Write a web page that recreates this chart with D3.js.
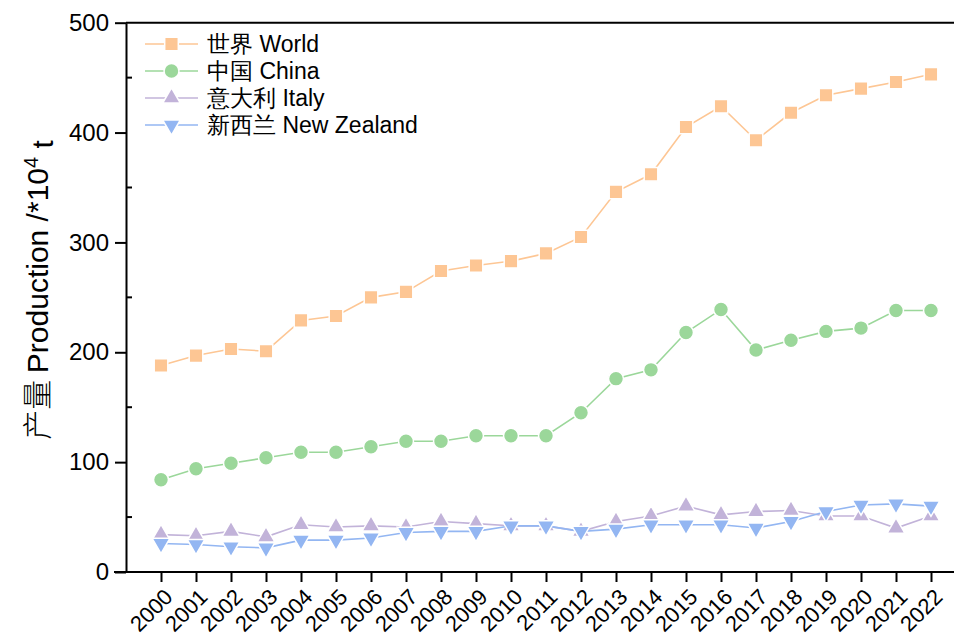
<!DOCTYPE html>
<html lang="zh">
    <head>
        <meta charset="utf-8">
        <title>Production chart</title>
        <script type="text/javascript" src="https://d3js.org/d3.v7.min.js"></script>
        <style>
            body { margin: 0; background: #fff; }
            text { font-family: "Liberation Sans", Arial, sans-serif; }
        </style>
    </head>
    <body>
        <script type="text/javascript">

            // data (unit: 10^4 t)
            var years = [2000, 2001, 2002, 2003, 2004, 2005, 2006, 2007, 2008, 2009, 2010,
                         2011, 2012, 2013, 2014, 2015, 2016, 2017, 2018, 2019, 2020, 2021, 2022];
            var world = [188, 197, 203, 201, 229, 233, 250, 255, 274, 279, 283,
                         290, 305, 346, 362, 405, 424, 393, 418, 434, 440, 446, 453];
            var china = [84, 94, 99, 104, 109, 109, 114, 119, 119, 124, 124,
                         124, 145, 176, 184, 218, 239, 202, 211, 219, 222, 238, 238];
            var italy = [34, 33, 37, 32, 43, 41, 42, 41, 46, 44, 42,
                         42, 37, 46, 51, 60, 52, 55, 56, 51, 51, 40, 51];
            var newZealand = [26, 25, 23, 22, 29, 29, 31, 36, 37, 37, 42,
                              42, 37, 39, 43, 43, 43, 40, 46, 55, 61, 62, 60];
            var seriesNames = ["世界 World", "中国 China", "意大利 Italy", "新西兰 New Zealand"];
            var yTicks = [0, 100, 200, 300, 400, 500];
            var yMinorTicks = [50, 150, 250, 350, 450];

            var w = 954;
            var h = 636;
            var plotLeft = 126, plotTop = 22.7, plotBottom = 572;

            var series = [
                { name: seriesNames[0], values: world, color: "#fdc694", shape: d3.symbolSquare, size: 185, rot: 0 },
                { name: seriesNames[1], values: china, color: "#9bd79a", shape: d3.symbolCircle, size: 175, rot: 0 },
                { name: seriesNames[2], values: italy, color: "#c2b3d9", shape: d3.symbolTriangle, size: 135, rot: 0 },
                { name: seriesNames[3], values: newZealand, color: "#93b6f2", shape: d3.symbolTriangle, size: 135, rot: 180 }
            ];

            var xScale = d3.scaleLinear()
                           .domain([1999, 2022])
                           .range([plotLeft, 931]);

            var yScale = d3.scaleLinear()
                           .domain([0, 500])
                           .range([plotBottom, plotTop]);

            var svg = d3.select("body")
                        .append("svg")
                        .attr("width", w)
                        .attr("height", h);

            // top frame line
            svg.append("line")
                .attr("x1", plotLeft).attr("x2", w)
                .attr("y1", plotTop).attr("y2", plotTop)
                .attr("stroke", "#000")
                .attr("stroke-width", 2);

            var line = d3.line()
                         .x(function(d, i) { return xScale(years[i]); })
                         .y(function(d) { return yScale(d); });

            var symbol = d3.symbol();

            // lines + markers, one series at a time (later ones on top)
            series.forEach(function(s) {
                var g = svg.append("g");
                g.append("path")
                    .attr("d", line(s.values))
                    .attr("fill", "none")
                    .attr("stroke", s.color)
                    .attr("stroke-width", 1.6);
                g.selectAll("path.mark")
                    .data(s.values)
                    .enter()
                    .append("path")
                    .attr("class", "mark")
                    .attr("d", symbol.type(s.shape).size(s.size)())
                    .attr("transform", function(d, i) {
                        return "translate(" + xScale(years[i]) + "," + yScale(d) + ") rotate(" + s.rot + ")";
                    })
                    .attr("fill", s.color)
                    .attr("stroke", "#fff")
                    .attr("stroke-width", 1.5);
            });

            // axes
            var xAxis = d3.axisBottom(xScale)
                          .tickValues(years)
                          .tickFormat(d3.format("d"))
                          .tickSizeInner(10)
                          .tickSizeOuter(0);

            var gx = svg.append("g")
                .attr("transform", "translate(0," + plotBottom + ")")
                .call(xAxis);
            gx.select(".domain").remove();
            gx.append("line")
                .attr("x1", plotLeft - 12).attr("x2", w)
                .attr("stroke", "#000")
                .attr("stroke-width", 2);
            gx.selectAll(".tick line").attr("stroke-width", 2);
            gx.selectAll(".tick text")
                .attr("x", 0)
                .attr("y", 0)
                .attr("dy", "0.35em")
                .attr("transform", "translate(7,21) rotate(-45)")
                .style("text-anchor", "end")
                .style("font-size", "22px")
                .attr("fill", "#000");

            var yAxis = d3.axisLeft(yScale)
                          .tickValues(yTicks)
                          .tickSizeInner(11)
                          .tickSizeOuter(0)
                          .tickPadding(6);

            var gy = svg.append("g")
                .attr("transform", "translate(" + plotLeft + ",0)")
                .call(yAxis);
            gy.select(".domain").attr("stroke-width", 2);
            gy.selectAll(".tick line").attr("stroke-width", 2);
            gy.selectAll(".tick text")
                .style("font-size", "24px")
                .attr("fill", "#000");

            gy.selectAll(".minor")
                .data(yMinorTicks)
                .enter()
                .append("line")
                .attr("class", "minor")
                .attr("x1", 0).attr("x2", 6)
                .attr("y1", function(d) { return yScale(d); })
                .attr("y2", function(d) { return yScale(d); })
                .attr("stroke", "#000")
                .attr("stroke-width", 2);

            // y axis title
            var title = svg.append("text")
                .attr("transform", "translate(48,290) rotate(-90)")
                .style("text-anchor", "middle")
                .style("font-size", "30px")
                .attr("fill", "#000");
            title.append("tspan")
                .style("font-family", "'Noto Sans CJK SC'")
                .style("font-weight", "300")
                .text("产量 ");
            title.append("tspan").text("Production /*10");
            title.append("tspan")
                .attr("dy", "-0.5em")
                .style("font-size", "20px")
                .text("4");
            title.append("tspan")
                .attr("dy", "0.5em")
                .text(" t");

            // legend
            var legend = svg.selectAll("g.legend")
                .data(series)
                .enter()
                .append("g")
                .attr("class", "legend")
                .attr("transform", function(d, i) { return "translate(145," + (44 + i * 27) + ")"; });

            legend.append("line")
                .attr("x1", 0).attr("x2", 53)
                .attr("stroke", function(d) { return d.color; })
                .attr("stroke-width", 1.6);
            legend.append("path")
                .attr("d", function(d) { return symbol.type(d.shape).size(d.size)(); })
                .attr("transform", function(d) { return "translate(26.5,0) rotate(" + d.rot + ")"; })
                .attr("fill", function(d) { return d.color; })
                .attr("stroke", "#fff")
                .attr("stroke-width", 1.5);
            legend.append("text")
                .attr("x", 62)
                .attr("dy", "0.35em")
                .style("font-size", "23px")
                .attr("fill", "#000")
                .text(function(d) { return d.name; });

        </script>
    </body>
</html>
